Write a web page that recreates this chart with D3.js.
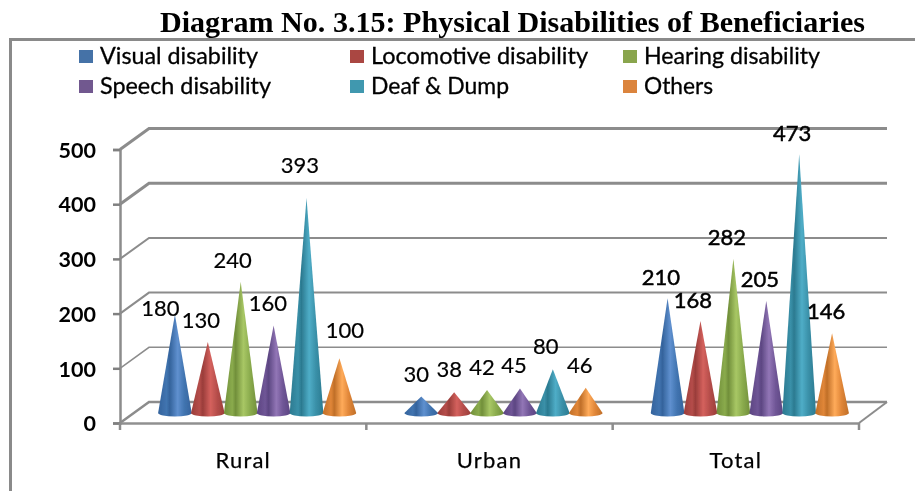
<!DOCTYPE html>
<html><head><meta charset="utf-8">
<script src="https://cdnjs.cloudflare.com/ajax/libs/d3/7.8.5/d3.min.js"></script>
<style>html,body{margin:0;background:#fff}svg{display:block}</style></head>
<body><svg id="c" width="915" height="491"></svg>
<script>
const categories = ["Rural","Urban","Total"];
const seriesNames = ["Visual disability","Locomotive disability","Hearing disability","Speech disability","Deaf & Dump","Others"];
const visual = [180,30,210];
const locomotive = [130,38,168];
const hearing = [240,42,282];
const speech = [160,45,205];
const deafDump = [393,80,473];
const others = [100,46,146];
const yTicks = [0,100,200,300,400,500];
const seriesValues = [visual,locomotive,hearing,speech,deafDump,others];

const swatches = ["#4572a7","#aa4643","#89a54e","#71588f","#4198af","#db843d"];
const colors = ["#4174b0","#b54d4a","#8aab4d","#6f5596","#3a90a8","#e08638"];
const darks  = ["#34639c","#9a3d3a","#718f3a","#5c4682","#2b7a90","#c06f28"];
const lights = ["#5f90cf","#d4615d","#a8c765","#9276b6","#4fadc7","#ffab5a"];
// label offsets from each cone's apex, by series then category
const labelDx = [[-14.5,-5,-6.6],[-7,-5,-7.5],[-8,-5,-6.4],[-5.7,-6,-6.3],[-6.6,-7,-7],[5.5,-6,-6]];
const labelDy = [[1.5,-14.6,-13],[-14,-15,-13],[-14,-15,-14],[-14.5,-15,-14],[-25,-15,-13],[-20,-15,-14]];

const svg = d3.select("#c");
const defs = svg.append("defs");
defs.append("filter").attr("id","soft").append("feGaussianBlur").attr("stdDeviation",0.5);
colors.forEach((c,i)=>{
  const g = defs.append("linearGradient").attr("id","g"+i);
  [[0,darks[i]],[0.25,c],[0.35,darks[i]],[0.58,lights[i]],[0.78,c],[1,darks[i]]].forEach(([o,col])=>
    g.append("stop").attr("offset",o).attr("stop-color",col));
});
const root = svg.append("g").attr("filter","url(#soft)");
const sans = "Lato,'Open Sans',sans-serif";

root.append("text").attr("x",512.5).attr("y",32).attr("text-anchor","middle")
  .attr("font-family","'Liberation Serif',serif").attr("font-weight","bold").attr("font-size",29)
  .attr("textLength",705).attr("lengthAdjust","spacingAndGlyphs").attr("fill","#000")
  .text("Diagram No. 3.15: Physical Disabilities of Beneficiaries");

root.append("path").attr("d","M10.5,491V39.5H915").attr("fill","none").attr("stroke","#8a8a8a").attr("stroke-width",3);

// legend
const legendX = [79,350,623], legendY=[57,87], legendW=[158,217,176,171,138,69];
seriesNames.forEach((n,i)=>{
  const x=legendX[i%3], y=legendY[Math.floor(i/3)];
  root.append("rect").attr("x",x).attr("y",y-7).attr("width",14).attr("height",13).attr("fill",swatches[i]);
  root.append("text").attr("x",x+21).attr("y",y+7).attr("font-family",sans).attr("font-size",22.5)
    .attr("stroke","#000").attr("stroke-width",0.3)
    .attr("textLength",legendW[i]).attr("lengthAdjust","spacingAndGlyphs").attr("fill","#000").text(n);
});

// scales
const front = {x0:120,x1:859,y0:423}, depth={dx:29,dy:-21};
const y = d3.scaleLinear().domain([0,500]).range([front.y0,149.5]);
const xBand = d3.scaleBand().domain(categories).range([front.x0,front.x1]);
const gridW = [2.5,1.5,2,2,3,3];
yTicks.forEach((t,i)=>{
  const yy=y(t);
  root.append("path").attr("d",`M${front.x0},${yy}L${front.x0+depth.dx},${yy+depth.dy}H887`)
    .attr("fill","none").attr("stroke","#8c8c8c").attr("stroke-width",gridW[i]);
});
root.append("path").attr("d",`M${front.x1},${front.y0}L887,${front.y0+depth.dy}`).attr("fill","none").attr("stroke","#8c8c8c").attr("stroke-width",2);

// axes
const axY = root.append("g").attr("transform",`translate(${front.x0},0)`).call(d3.axisLeft(y).tickValues(yTicks).tickSize(7).tickPadding(17));
axY.selectAll("line").attr("stroke","#808080").attr("stroke-width",2.5);
axY.select(".domain").attr("stroke","#8c8c8c").attr("stroke-width",2.5);
axY.selectAll("text").attr("font-family",sans).attr("font-size",21.5).attr("font-weight",700).attr("fill","#000").attr("dy","0.36em");

const axX = root.append("g").attr("transform",`translate(0,${front.y0})`).call(d3.axisBottom(xBand).tickSize(0).tickPadding(29));
axX.select(".domain").attr("stroke","#909090").attr("stroke-width",2.5);
axX.selectAll("text").attr("font-family",sans).attr("font-size",22).attr("letter-spacing",1.2).attr("fill","#000").attr("stroke","#000").attr("stroke-width",0.25);
[...categories.map(c=>xBand(c)),front.x1].forEach(x=>
  root.append("line").attr("x1",x).attr("x2",x).attr("y1",front.y0).attr("y2",front.y0+7).attr("stroke","#8c8c8c").attr("stroke-width",2.5));

// cones
const rx=16.8, ry=3.5, baseShift=-10, coneGap=32.9;
const xSeries = i => (i-2.5)*coneGap;
categories.forEach((c,ci)=>{
  const cx0 = xBand(c)+xBand.bandwidth()/2+14;
  seriesValues.forEach((vals,si)=>{
    const cx=cx0+xSeries(si), by=y(0)+baseShift, ty=y(vals[ci])+baseShift;
    root.append("path").attr("d",`M${cx},${ty}L${cx+rx},${by}A${rx},${ry} 0 0 1 ${cx-rx},${by}Z`)
      .attr("fill",`url(#g${si})`);
    root.append("text").attr("x",cx+labelDx[si][ci]).attr("y",ty+labelDy[si][ci]).attr("text-anchor","middle")
      .attr("font-family",sans).attr("font-size",22).attr("fill","#000")
      .attr("stroke","#000").attr("stroke-width",ci===2?0.5:0.2).text(vals[ci]);
  });
});
</script></body></html>
